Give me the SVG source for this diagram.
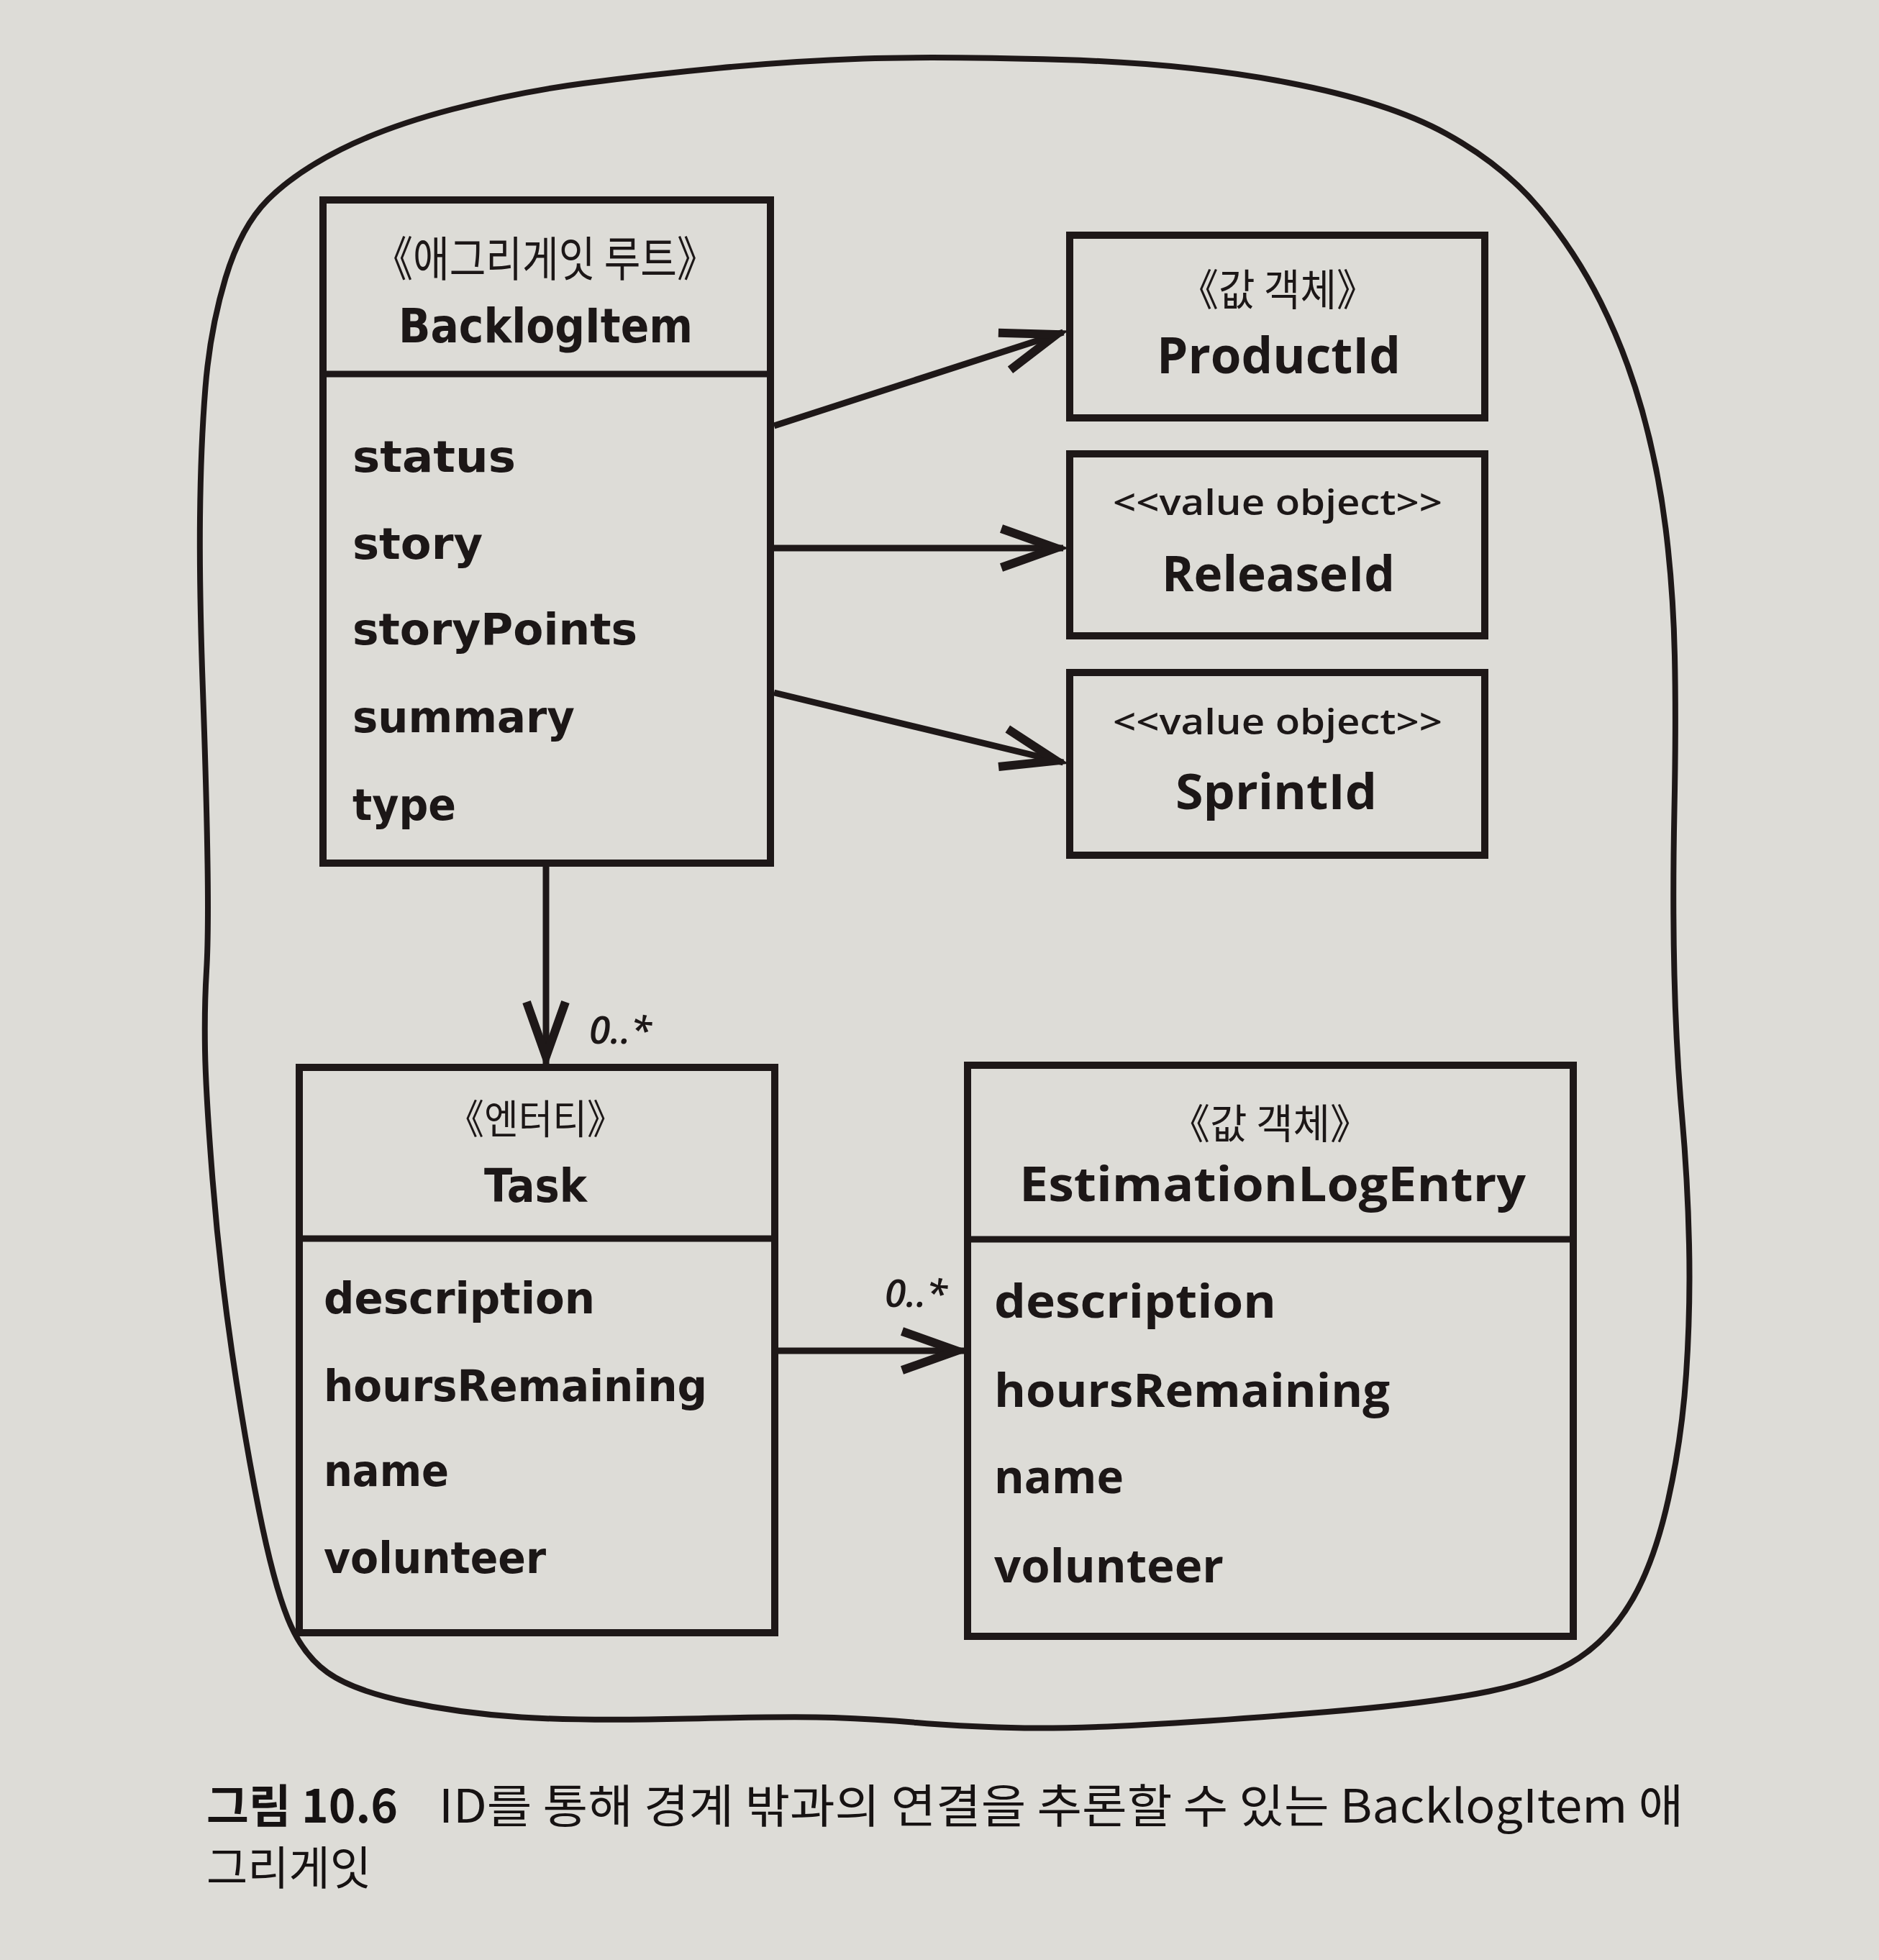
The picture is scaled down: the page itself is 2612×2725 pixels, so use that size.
<svg xmlns="http://www.w3.org/2000/svg" width="2612" height="2725" viewBox="0 0 2612 2725">
<defs>
<style>
.box{fill:none;stroke:#1e1818;stroke-width:10}
.div{stroke:#1e1818;stroke-width:9}
.conn{stroke:#1e1818;stroke-width:9;fill:none}
.blob{fill:none;stroke:#1e1818;stroke-width:8;stroke-linejoin:round}
.kr{font-family:"Noto Sans CJK KR","Noto Sans CJK SC",sans-serif;font-weight:400;fill:#1c1717}
.wide{font-family:"DejaVu Sans",sans-serif;font-weight:bold;fill:#1c1717}
.hand{font-family:"Open Sans","Noto Sans",sans-serif;font-weight:600;fill:#1c1717}
.handb{font-family:"Open Sans","Noto Sans",sans-serif;font-weight:700;fill:#1c1717}
.mult{font-family:"Open Sans","Noto Sans",sans-serif;font-style:italic;font-weight:600;fill:#1c1717}
.cap{font-family:"Noto Sans CJK KR","Noto Sans CJK SC",sans-serif;fill:#161212}
</style>
<marker id="arr" markerUnits="userSpaceOnUse" markerWidth="120" markerHeight="120" viewBox="-100 -60 120 120" refX="0" refY="0" orient="auto" overflow="visible">
<path d="M-86,-27 L-10,0 L-86,27" fill="none" stroke="#1e1818" stroke-width="12"/>
</marker>
</defs>
<rect x="0" y="0" width="2612" height="2725" fill="#dddcd7"/>

<g id="aggregate-boundary">
<path class="blob" d="M 1000.5,94.5 Q 1100,85 1200,81.5 Q 1300,78 1475.5,83 Q 1651,88 1791,115 Q 1931,142 2010.5,186 Q 2090,230 2140,290 Q 2190,350 2225,420 Q 2260,490 2282.5,570 Q 2305,650 2315.5,735 Q 2326,820 2328,912 Q 2330,1004 2327.5,1127 Q 2325,1250 2327.5,1355 Q 2330,1460 2338,1550 Q 2346,1640 2348,1730 Q 2350,1820 2344,1910 Q 2338,2000 2319,2085 Q 2300,2170 2270,2222.5 Q 2240,2275 2195,2305 Q 2150,2335 2070,2351.5 Q 1990,2368 1845,2380 Q 1700,2392 1590,2398 Q 1480,2404 1405,2402 Q 1330,2400 1274,2395 Q 1218,2390 1159,2388 Q 1100,2386 955,2389.5 Q 810,2393 725,2387.5 Q 640,2382 565,2366 Q 490,2350 455,2325 Q 420,2300 400,2250 Q 380,2200 360,2100 Q 340,2000 322.5,1880 Q 305,1760 295.5,1640 Q 286,1520 285,1460 Q 284,1400 287,1350 Q 290,1300 288.5,1200 Q 287,1100 282,960 Q 277,820 278,720 Q 279,620 285.5,539 Q 292,458 313.5,386.5 Q 335,315 372.5,277.5 Q 410,240 473.5,208 Q 537,176 628.5,152 Q 720,128 810.5,116 Q 901,104 1000.5,94.5 Z"/>
</g>

<g id="connectors">
<line class="conn" x1="1076" y1="592" x2="1478" y2="462" marker-end="url(#arr)"/>
<line class="conn" x1="1076" y1="762" x2="1478" y2="762" marker-end="url(#arr)"/>
<line class="conn" x1="1076" y1="963" x2="1478" y2="1060" marker-end="url(#arr)"/>
<line class="conn" x1="759" y1="1204" x2="759" y2="1479" marker-end="url(#arr)"/>
<line class="conn" x1="1081" y1="1878" x2="1340" y2="1878" marker-end="url(#arr)"/>
<text class="mult" x="819" y="1451" font-size="52" textLength="87" lengthAdjust="spacingAndGlyphs">0..*</text>
<text class="mult" x="1230" y="1817" font-size="52" textLength="87" lengthAdjust="spacingAndGlyphs">0..*</text>
</g>

<g id="node-backlogitem">
<rect class="box" x="449" y="278" width="622" height="922"/>
<line class="div" x1="449" y1="520" x2="1071" y2="520"/>
<text class="kr" x="519" y="384" font-size="66" textLength="477" lengthAdjust="spacingAndGlyphs">《애그리게잇 루트》</text>
<text class="wide" x="554" y="476" font-size="66" textLength="409" lengthAdjust="spacingAndGlyphs">BacklogItem</text>
<text class="wide" x="490" y="656" font-size="61" textLength="227" lengthAdjust="spacingAndGlyphs">status</text>
<text class="wide" x="490" y="777" font-size="61" textLength="181" lengthAdjust="spacingAndGlyphs">story</text>
<text class="wide" x="490" y="896" font-size="61" textLength="396" lengthAdjust="spacingAndGlyphs">storyPoints</text>
<text class="wide" x="490" y="1018" font-size="61" textLength="309" lengthAdjust="spacingAndGlyphs">summary</text>
<text class="wide" x="490" y="1140" font-size="61" textLength="144" lengthAdjust="spacingAndGlyphs">type</text>
</g>

<g id="node-productid">
<rect class="box" x="1487" y="327" width="577" height="254"/>
<text class="kr" x="1639" y="425" font-size="60" textLength="274" lengthAdjust="spacingAndGlyphs">《값 객체》</text>
<text class="handb" x="1608" y="519" font-size="70" textLength="339" lengthAdjust="spacingAndGlyphs">ProductId</text>
</g>

<g id="node-releaseid">
<rect class="box" x="1487" y="631" width="577" height="253"/>
<text class="hand" x="1547" y="716" font-size="48" textLength="458" lengthAdjust="spacingAndGlyphs">&lt;&lt;value object&gt;&gt;</text>
<text class="handb" x="1615" y="822" font-size="68" textLength="324" lengthAdjust="spacingAndGlyphs">ReleaseId</text>
</g>

<g id="node-sprintid">
<rect class="box" x="1487" y="935" width="577" height="254"/>
<text class="hand" x="1547" y="1021" font-size="48" textLength="458" lengthAdjust="spacingAndGlyphs">&lt;&lt;value object&gt;&gt;</text>
<text class="handb" x="1634" y="1125" font-size="68" textLength="280" lengthAdjust="spacingAndGlyphs">SprintId</text>
</g>

<g id="node-task">
<rect class="box" x="416" y="1484" width="661" height="786"/>
<line class="div" x1="416" y1="1722" x2="1077" y2="1722"/>
<text class="kr" x="621" y="1576" font-size="56" textLength="247" lengthAdjust="spacingAndGlyphs">《엔터티》</text>
<text class="wide" x="673" y="1671" font-size="64" textLength="143" lengthAdjust="spacingAndGlyphs">Task</text>
<text class="wide" x="450" y="1826" font-size="60" textLength="377" lengthAdjust="spacingAndGlyphs">description</text>
<text class="wide" x="450" y="1948" font-size="60" textLength="533" lengthAdjust="spacingAndGlyphs">hoursRemaining</text>
<text class="wide" x="450" y="2066" font-size="60" textLength="174" lengthAdjust="spacingAndGlyphs">name</text>
<text class="wide" x="450" y="2187" font-size="60" textLength="309" lengthAdjust="spacingAndGlyphs">volunteer</text>
</g>

<g id="node-estimationlogentry">
<rect class="box" x="1345" y="1481" width="842" height="794"/>
<line class="div" x1="1345" y1="1723" x2="2187" y2="1723"/>
<text class="kr" x="1626" y="1583" font-size="57" textLength="279" lengthAdjust="spacingAndGlyphs">《값 객체》</text>
<text class="handb" x="1417" y="1670" font-size="66" textLength="704" lengthAdjust="spacingAndGlyphs">EstimationLogEntry</text>
<text class="handb" x="1382" y="1832" font-size="64" textLength="392" lengthAdjust="spacingAndGlyphs">description</text>
<text class="handb" x="1382" y="1956" font-size="64" textLength="550" lengthAdjust="spacingAndGlyphs">hoursRemaining</text>
<text class="handb" x="1382" y="2076" font-size="64" textLength="180" lengthAdjust="spacingAndGlyphs">name</text>
<text class="handb" x="1382" y="2200" font-size="64" textLength="319" lengthAdjust="spacingAndGlyphs">volunteer</text>
</g>

<g id="caption">
<text class="cap" x="287" y="2534" font-size="64" font-weight="bold" textLength="266" lengthAdjust="spacingAndGlyphs">그림 10.6</text>
<text class="cap" x="610" y="2534" font-size="64" textLength="1730" lengthAdjust="spacingAndGlyphs">ID를 통해 경계 밖과의 연결을 추론할 수 있는 BacklogItem 애</text>
<text class="cap" x="287" y="2620" font-size="64" textLength="229" lengthAdjust="spacingAndGlyphs">그리게잇</text>
</g>
</svg>
